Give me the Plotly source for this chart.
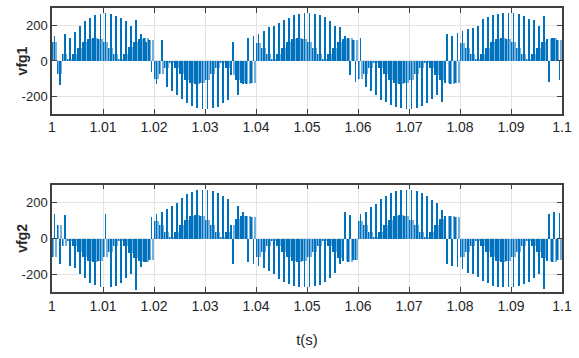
import numpy as np
import plotly.graph_objects as go
from plotly.subplots import make_subplots

# ---- data (one switching period = 1 ms) ----
n_periods = 100
t_start = 1.0
t_period = 0.001

# outer (dark) pulse heights, vfg1
vfg1_outer = [140, -135, 150, 130, 165, 200, 225, 245, 258, 265,
              272, 268, 255, 245, 225, 200, 230, 150, 110, -60,
              -130, 120, -150, -170, -190, -215, -240, -255, -265, -270,
              -272, -268, -258, -240, -220, 110, -190, -130, 130, 140,
              150, 170, 190, 200, 215, 230, 245, 258, 265, 270,
              272, 268, 258, 250, 225, 200, 190, 140, -80, -120,
              130, -150, -170, -190, -220, -235, -250, -262, -268, -272,
              -270, -265, -255, -240, -215, -195, -230, 150, 140, 160,
              170, 180, 185, 200, 240, 250, 262, 268, 272, 270,
              272, 266, 255, 235, 230, 200, 255, -120, 130, -110]

# inner (light) pulse heights, vfg1
vfg1_inner = [105, -76, 40, 12, 40, 76, 105, 124, 130, 124,
              105, 76, 40, 12, 40, 78, 106, 125, 128, 120,
              -100, -76, -40, -12, -40, -76, -105, -124, -130, -124,
              -105, -76, -40, -12, -40, -78, -108, -126, -128, -122,
              104, 76, 40, 12, 40, 76, 105, 124, 130, 124,
              105, 76, 40, 12, 40, 76, 106, 125, 128, 120,
              -100, -76, -40, -12, -40, -76, -105, -124, -130, -124,
              -105, -76, -40, -12, -40, -78, -108, -126, -128, -122,
              104, 76, 40, 12, 40, 76, 105, 124, 130, 124,
              105, 76, 40, 12, 40, 76, 106, 125, 128, 120]

# outer (dark) pulse heights, vfg2
vfg2_outer = [140, -140, 130, -150, -165, -195, -220, -245, -258, -268,
              140, -270, -262, -245, -222, -200, -285, -160, -130, 120,
              140, 150, 165, 185, 200, 225, 248, 262, 270, 272,
              270, 265, 255, 240, 220, -140, 180, 150, -130, -140,
              -150, -165, -180, -200, -225, -240, -255, -265, -270, -272,
              -270, -262, -258, -240, -220, -190, -140, 150, 130, -120,
              140, 150, 175, 195, 220, 240, 255, 265, 272, 270,
              272, 265, 255, 240, 215, 200, 160, -140, -150, -160,
              -170, -190, -200, -215, -235, -250, -262, -268, -272, -270,
              -272, -265, -255, -240, -220, -200, -280, 140, 150, 145]

# inner (light) pulse heights, vfg2
vfg2_inner = [-105, 76, -40, -12, -40, -76, -105, -124, -130, -124,
              -105, -76, -40, -12, -40, -78, -106, -125, -128, -120,
              100, 76, 40, 12, 40, 76, 105, 124, 130, 124,
              105, 76, 40, 12, 40, 78, 108, 126, 128, 122,
              -104, -76, -40, -12, -40, -76, -105, -124, -130, -124,
              -105, -76, -40, -12, -40, -76, -106, -125, -128, -120,
              100, 76, 40, 12, 40, 76, 105, 124, 130, 124,
              105, 76, 40, 12, 40, 78, 108, 126, 128, 122,
              -104, -76, -40, -12, -40, -76, -105, -124, -130, -124,
              -105, -76, -40, -12, -40, -76, -106, -125, -128, -120]

x_tick_vals = [1.0, 1.01, 1.02, 1.03, 1.04, 1.05, 1.06, 1.07, 1.08, 1.09, 1.1]
x_tick_text = ["1", "1.01", "1.02", "1.03", "1.04", "1.05", "1.06", "1.07", "1.08", "1.09", "1.1"]
y_tick_vals = [-200, 0, 200]
y_tick_text = ["-200", "0", "200"]
y_titles = ["vfg1", "vfg2"]

# ---- figure ----
t = t_start + t_period * np.arange(n_periods)
# centre-aligned PWM: inner level appears on both sides of the outer pulse
t_inner_a = t + 0.00018
t_outer = t + 0.0005
t_inner_b = t + 0.00082

dark = "#0072bd"
light = "#76b0dc"

fig = make_subplots(rows=2, cols=1, vertical_spacing=0.0)

for row, inner, outer in [(1, vfg1_inner, vfg1_outer), (2, vfg2_inner, vfg2_outer)]:
    for ti in (t_inner_a, t_inner_b):
        fig.add_trace(go.Bar(x=ti, y=inner, width=0.00034,
                             marker=dict(color=light, line=dict(width=0)),
                             showlegend=False, hoverinfo="skip"), row=row, col=1)
    # edge of the first inner pulse drawn as a thin dark line
    fig.add_trace(go.Bar(x=t_inner_a - 0.00012, y=inner, width=0.00012,
                         marker=dict(color=dark, line=dict(width=0)),
                         showlegend=False, hoverinfo="skip"), row=row, col=1)
    fig.add_trace(go.Bar(x=t_outer, y=outer, width=0.00015,
                         marker=dict(color=dark, line=dict(width=0)),
                         showlegend=False, hoverinfo="skip"), row=row, col=1)

tick_font_y = dict(family="Liberation Sans Narrow, Liberation Sans, Arial", size=13, color="#262626")
tick_font_x = dict(family="Liberation Sans Narrow, Liberation Sans, Arial", size=14, color="#262626")
common_x = dict(range=[1.0, 1.1], tickvals=x_tick_vals, ticktext=x_tick_text,
                showline=True, linecolor="#404040", linewidth=1.5, mirror="ticks",
                ticks="inside", ticklen=5, tickcolor="#404040", tickwidth=1.2,
                showgrid=True, gridcolor="#e3e3e3", gridwidth=1, zeroline=False,
                tickfont=tick_font_x)
common_y = dict(range=[-300, 300], tickvals=y_tick_vals, ticktext=y_tick_text,
                showline=True, linecolor="#404040", linewidth=1.5, mirror="ticks",
                ticks="inside", ticklen=5, tickcolor="#404040", tickwidth=1.2,
                showgrid=True, gridcolor="#e3e3e3", gridwidth=1, zeroline=False,
                tickfont=tick_font_y)

fig.update_xaxes(**common_x)
fig.update_yaxes(**common_y)
fig.update_xaxes(domain=[0, 1])
domains = [[0.627, 1.0], [0.0, 0.378]]
fig.update_yaxes(domain=domains[0], row=1, col=1)
fig.update_yaxes(domain=domains[1], row=2, col=1)
fig.update_xaxes(row=2, col=1,
                 title=dict(text="t(s)", font=dict(family="Liberation Sans Narrow, Liberation Sans, Arial",
                                                   size=15, color="#262626"), standoff=22))

title_font = dict(family="Liberation Sans, Arial", size=14, color="#262626")
for name, dom in zip(y_titles, domains):
    fig.add_annotation(text="<b>" + name + "</b>", xref="paper", yref="paper",
                       x=-0.058, y=(dom[0] + dom[1]) / 2, xanchor="center", yanchor="middle",
                       textangle=-90, showarrow=False, font=title_font)

fig.update_layout(width=579, height=358, barmode="overlay", bargap=0,
                  margin=dict(l=52, r=17, t=6, b=66),
                  paper_bgcolor="white", plot_bgcolor="white")

fig.write_html("out.html")
